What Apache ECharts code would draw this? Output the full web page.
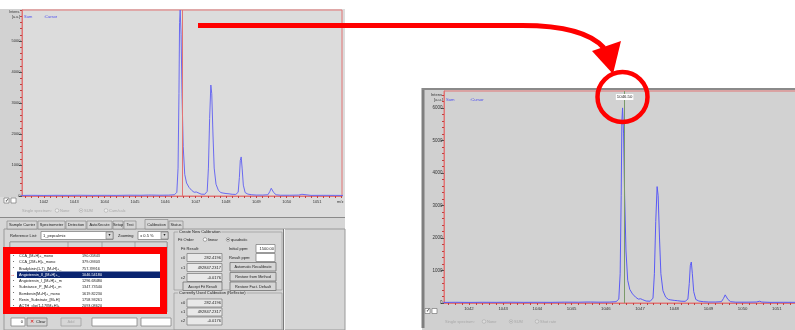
<!DOCTYPE html>
<html><head><meta charset="utf-8">
<script src="https://cdn.jsdelivr.net/npm/echarts@6/dist/echarts.min.js"></script>
<style>html,body{margin:0;padding:0;background:#fff}#c{width:795px;height:330px}</style>
</head><body><div id="c"></div><script>
// ---- data ----
const spectrumMz = [1041.25,1041.6,1042.0,1042.4,1042.8,1043.2,1043.6,1044.0,1044.4,1044.8,1045.2,1045.45,1045.5,1045.55,1045.8,1046.1,1046.3,1046.38,1046.42,1046.45,1046.47,1046.49,1046.52,1046.55,1046.59,1046.64,1046.7,1046.78,1046.87,1046.95,1047.02,1047.08,1047.18,1047.3,1047.38,1047.42,1047.46,1047.5,1047.53,1047.57,1047.61,1047.67,1047.75,1047.83,1047.9,1048.0,1048.1,1048.2,1048.32,1048.4,1048.44,1048.47,1048.5,1048.53,1048.57,1048.63,1048.72,1048.85,1049.0,1049.2,1049.38,1049.44,1049.49,1049.52,1049.57,1049.65,1049.8,1050.1,1050.4,1050.5,1050.56,1050.8,1051.2,1051.6,1051.9];
const spectrumIntensity = [18,22,18,22,20,24,20,22,20,26,24,30,50,30,25,28,40,120,900,3300,5600,6000,5200,3300,1600,700,420,280,180,120,130,100,60,55,150,900,2500,3580,3300,2000,900,380,180,110,95,80,70,55,50,120,600,1150,1260,900,350,110,60,40,30,30,40,140,250,230,110,40,25,25,30,55,30,20,22,20,18];
const xTickLabels = [1042,1043,1044,1045,1046,1047,1048,1049,1050,1051];
const yTickLabelsOverview = [0,1000,2000,3000,4000,5000];
const yTickLabelsZoom = [0,1000,2000,3000,4000,5000,6000];
const cursorMz = 1046.545;
const cursorLabel = '1046.50';
const calibrantNames = ['CCA_[M+H]+_mono','CCA_[2M+H]+_mono','Bradykinin(1-7)_[M+H]+_','Angiotensin_II_[M+H]+_','Angiotensin_I_[M+H]+_m','Substance_P_[M+H]+_m','Bombesin[M+H]+_mono','Renin_Substrate_[M+H]','ACTH_clip(1-17)[M+H]+'];
const calibrantMasses = ['190.05843','379.09303','757.39916','1046.54180','1296.68480','1347.73540','1619.82230','1758.93261','2093.08620'];
const selectedCalibrant = 3;
const tabNames = ['Sample Carrier','Spectrometer','Detection','AutoXecute','Setup','Test','Calibration','Status'];
const fitCoefs = ['282.4196','492847.2317','-0.0176'];

// ---- helpers for the surrounding screenshot decoration ----
const FF = 'Liberation Sans, Arial, sans-serif';
const G = [];
function R(x,y,w,h,fill,stroke,lw,z){G.push({type:'rect',silent:true,z:z==null?-10:z,shape:{x:x,y:y,width:w,height:h},style:{fill:fill||'none',stroke:stroke||null,lineWidth:lw||1}});}
function T(x,y,s,o){o=o||{};G.push({type:'text',silent:true,z:o.z==null?-8:o.z,x:x,y:y,style:{text:s,fontSize:o.fs||4.5,fill:o.c||'#222',fontFamily:FF,align:o.a||'left',verticalAlign:'middle',backgroundColor:o.bg||null,padding:o.bg?[0,1]:0}});}
function L(x1,y1,x2,y2,c,lw,z){G.push({type:'line',silent:true,z:z==null?-9:z,shape:{x1:x1,y1:y1,x2:x2,y2:y2},style:{stroke:c,lineWidth:lw||1}});}
function C(cx,cy,r,fill,stroke,lw,z){G.push({type:'circle',silent:true,z:z==null?-8:z,shape:{cx:cx,cy:cy,r:r},style:{fill:fill||'none',stroke:stroke||null,lineWidth:lw||1}});}

// left screenshot
R(0,9,345,209,'#dcdcdc');
R(0,9,22,188,'#d2d2d2');
R(0,217,345,113,'#d6d6d6');
L(0,217.5,345,217.5,'#8a8a8a');
T(20,12,'Intens.',{a:'right',fs:3.6,c:'#333'});
T(20,17,'[a.u.]',{a:'right',fs:3.6,c:'#333'});
T(24,17,'Sum',{fs:4,c:'#4a4af0',z:5});
T(44,17,':Cursor',{fs:4,c:'#4a4af0',z:5});
T(337,202,'m/z',{fs:4,c:'#333'});
R(4,198,5,5,'#fff','#666',0.6); T(4.5,200.5,'✓',{fs:4.5,c:'#000'});
R(11,198,5,5,'#fff','#666',0.6);
T(22,210.5,'Single spectrum:',{c:'#a8a8a8',fs:4});
C(57,210.5,1.8,'#eee','#aaa',0.6); T(60,210.5,'None',{c:'#a8a8a8',fs:4});
C(81,210.5,1.8,'#eee','#aaa',0.6); C(81,210.5,0.7,'#999'); T(84,210.5,'SUM',{c:'#a8a8a8',fs:4});
C(106,210.5,1.8,'#eee','#aaa',0.6); T(109,210.5,'Cum/calc',{c:'#a8a8a8',fs:4});
// tabs
const tabX = [[7,37],[38,65],[66,86],[87,112],[113,123],[124,136],[145,168],[169,183]];
R(4,229,341,101,'none','#9a9a9a');
tabNames.forEach(function(n,i){
  const sel = n==='Calibration';
  R(tabX[i][0],sel?219.5:221,tabX[i][1]-tabX[i][0],sel?9.5:8,'#d6d6d6','#8a8a8a',0.7);
  T((tabX[i][0]+tabX[i][1])/2,224.5,n,{a:'center',fs:3.9});
});
T(10,235.5,'Reference List:',{fs:4});
R(41,231.5,72,8,'#fff','#777',0.7); T(43,235.5,'1_pepcalmix',{fs:4});
R(106,232,7,7,'#d6d6d6','#777',0.6); T(109.5,235.5,'▼',{a:'center',fs:3.5});
T(118,235.5,'Zooming',{fs:4});
R(138,231.5,30,8,'#fff','#777',0.7); T(140,235.5,'± 0.5 %',{fs:4});
R(161,232,7,7,'#d6d6d6','#777',0.6); T(164.5,235.5,'▼',{a:'center',fs:3.5});
// calibrant list
R(10,242,157,70,'#fff','#777',0.7);
R(10,242,157,6,'#d6d6d6','#888',0.6);
L(68,242,68,248,'#888',0.6); L(102,242,102,248,'#888',0.6); L(135,242,135,248,'#888',0.6);
calibrantNames.forEach(function(n,i){
  const y = 256 + i*6.25;
  if(i===selectedCalibrant){R(17,y-3.3,145,6.6,'#0a2470'); T(10,y,'→',{c:'#e00000',fs:5});}
  T(13,y,'•',{fs:3.5,c:i===selectedCalibrant?'#fff':'#333'});
  T(19,y,n,{fs:3.8,c:i===selectedCalibrant?'#fff':'#222'});
  T(82,y,calibrantMasses[i],{fs:3.8,c:i===selectedCalibrant?'#fff':'#222'});
});
T(12,309,'◄',{fs:3.5}); T(158,309,'►',{fs:3.5});
// bottom controls
R(11,318,14,8,'#fff','#777',0.7); T(23,322,'0',{a:'right',fs:4});
R(27,318,20,8,'#d6d6d6','#777',0.7); T(30,322,'✕',{c:'#e00000',fs:5}); T(36,322,'Clear',{fs:4});
R(61,318,20,8,'#d6d6d6','#999',0.7); T(71,322,'Add',{a:'center',fs:4,c:'#aaa'});
R(92,318,45,8,'#fff','#777',0.7);
R(141,318,30,8,'#fff','#777',0.7);
// calibration group boxes
R(174,232,108,58,'none','#9a9a9a',0.7);
T(178,232,'Create New Calibration',{fs:4,bg:'#d6d6d6'});
T(178,239.5,'Fit Order',{fs:4});
C(205,239.5,1.8,'#fff','#777',0.6); T(208,239.5,'linear',{fs:4});
C(228,239.5,1.8,'#fff','#777',0.6); C(228,239.5,0.7,'#000'); T(231,239.5,'quadratic',{fs:4});
T(181,248.5,'Fit Result:',{fs:4});
T(229,248.5,'Initial ppm:',{fs:4});
R(256,244.5,19,8,'#fff','#777',0.7); T(274,248.5,'1500.00',{a:'right',fs:4});
T(229,257.5,'Result ppm:',{fs:4});
R(256,253.5,19,8,'#fff','#777',0.7);
['c0','c1','c2'].forEach(function(c,i){
  const y = 257.5 + i*10;
  T(181,y,c,{fs:4});
  R(187,y-4,35,8,'#e8e8e8','#777',0.7); T(221,y,fitCoefs[i],{a:'right',fs:4});
});
R(230,262.5,46,8.5,'#d6d6d6','#666',0.7); T(253,267,'Automatic Recalibrate',{a:'center',fs:3.8});
R(230,272.5,46,8.5,'#d6d6d6','#666',0.7); T(253,277,'Restore from Method',{a:'center',fs:3.8});
R(230,282,46,8.5,'#d6d6d6','#666',0.7); T(253,286.5,'Restore Fact. Default',{a:'center',fs:3.8});
R(183,282,39,8.5,'#d6d6d6','#666',0.7); T(202.5,286.5,'Accept Fit Result',{a:'center',fs:3.8});
R(174,293,108,37,'none','#9a9a9a',0.7);
T(178,293,'Currently Used Calibration (Reflector)',{fs:4,bg:'#d6d6d6'});
['c0','c1','c2'].forEach(function(c,i){
  const y = 303 + i*9;
  T(181,y,c,{fs:4});
  R(187,y-4,35,8,'#e8e8e8','#777',0.7); T(221,y,fitCoefs[i],{a:'right',fs:4});
});
L(283.5,229,283.5,330,'#7a7a7a',1);
L(284.5,229,284.5,330,'#f4f4f4',1);

// right panel
R(422,88,373,242,'#d0d0d0');
L(423,88,423,328,'#7f7f7f',3);
L(422,89,795,89,'#8a8a8a',2);
T(443,94.5,'Intens.',{a:'right',fs:4,c:'#333'});
T(443,100,'[a.u.]',{a:'right',fs:4,c:'#333'});
T(446,100,'Sum',{fs:4.2,c:'#4a4af0',z:5});
T(470,100,':Cursor',{fs:4.2,c:'#4a4af0',z:5});
R(425,308.5,5,5,'#fff','#666',0.6); T(425.5,311,'✓',{fs:4.5,c:'#000'});
R(432,308.5,5,5,'#fff','#666',0.6);
T(445,321.5,'Single spectrum:',{c:'#a8a8a8',fs:4});
C(484,321.5,1.8,'#ddd','#aaa',0.6); T(487,321.5,'None',{c:'#a8a8a8',fs:4});
C(511,321.5,1.8,'#ddd','#aaa',0.6); C(511,321.5,0.7,'#999'); T(514,321.5,'SUM',{c:'#a8a8a8',fs:4});
C(537,321.5,1.8,'#ddd','#aaa',0.6); T(540,321.5,'Shot rate',{c:'#a8a8a8',fs:4});

// red annotation overlays
R(6.5,250.5,157,60,'none','#ff0000',7,100);
L(198,25.5,523,25.5,'#ff0000',5,100);
G.push({type:'bezierCurve',silent:true,z:100,shape:{x1:522,y1:25.5,cpx1:562,cpy1:25.5,cpx2:590,cpy2:32,x2:604,y2:48},style:{fill:'none',stroke:'#ff0000',lineWidth:5}});
G.push({type:'polygon',silent:true,z:101,shape:{points:[[592,51],[621,41],[613,74]]},style:{fill:'#ff0000'}});
C(622.5,97,25,'none','#ff0000',4.5,100);

// ticks
const xMinorTicks = []; for(let k=10414;k<=10518;k+=2){xMinorTicks.push(k/10);}
const yMinorTicks = []; for(let k=0;k<=6500;k+=200){yMinorTicks.push(k);}
const pts = spectrumMz.map(function(m,i){return [m,spectrumIntensity[i]];});
const AX = '#e27474';
function plain(v){return String(v);}
function xAx(g,min,max,fs){return {gridIndex:g,type:'value',min:min,max:max,position:'bottom',
  axisLine:{show:true,onZero:false,lineStyle:{color:AX}},splitLine:{show:false},
  axisTick:{show:true,customValues:xMinorTicks,length:2,lineStyle:{color:'#c04040'}},
  axisLabel:{customValues:xTickLabels,formatter:plain,fontSize:fs,color:'#333',margin:3.5,fontFamily:FF}};}
function yMinor(g,max){return {gridIndex:g,type:'value',min:0,max:max,position:'left',
  axisLine:{show:true,onZero:false,lineStyle:{color:AX}},splitLine:{show:false},
  axisTick:{show:true,customValues:yMinorTicks,length:2,lineStyle:{color:'#c04040'}},
  axisLabel:{show:false}};}
function yMajor(g,max,fs,labels){return {gridIndex:g,type:'value',min:0,max:max,position:'left',offset:0,
  axisLine:{show:false,onZero:false},splitLine:{show:false},
  axisTick:{show:true,customValues:labels,length:3,lineStyle:{color:'#555'}},
  axisLabel:{customValues:labels,formatter:plain,fontSize:fs,color:'#333',margin:1.5,fontFamily:FF}};}

const chart = echarts.init(document.getElementById('c'),null,{renderer:'canvas'});
chart.setOption({
  animation:false,
  backgroundColor:'#ffffff',
  graphic:{elements:G},
  grid:[{left:22,top:10,width:320,height:186,show:true,backgroundColor:'#dcdcdc',borderColor:AX,borderWidth:1,containLabel:false,outerBoundsMode:'none'},
        {left:444,top:91,width:352,height:212,show:true,backgroundColor:'#d2d2d2',borderColor:AX,borderWidth:1,containLabel:false,outerBoundsMode:'none'}],
  xAxis:[xAx(0,1041.28,1051.82,4),xAx(1,1041.27,1051.56,4.3)],
  yAxis:[yMinor(0,6000),yMajor(0,6000,4,yTickLabelsOverview),yMinor(1,6520),yMajor(1,6520,4.5,yTickLabelsZoom)],
  series:[
    {type:'line',xAxisIndex:0,yAxisIndex:0,data:pts,showSymbol:false,lineStyle:{color:'#6a6af0',width:1},
     markLine:{silent:true,symbol:'none',label:{show:false},lineStyle:{color:'#e27474',width:1,type:'solid'},data:[{xAxis:cursorMz}]}},
    {type:'line',xAxisIndex:1,yAxisIndex:2,data:pts,showSymbol:false,lineStyle:{color:'#5a5af5',width:1},
     markLine:{silent:true,symbol:'none',lineStyle:{color:'#7a9a6a',width:1,type:'solid'},
       label:{show:true,position:'end',distance:-9,formatter:cursorLabel,fontSize:4.3,color:'#222',backgroundColor:'#ffffff',padding:[1,1],fontFamily:FF},
       data:[{xAxis:cursorMz}]}}
  ]
});
</script></body></html>
